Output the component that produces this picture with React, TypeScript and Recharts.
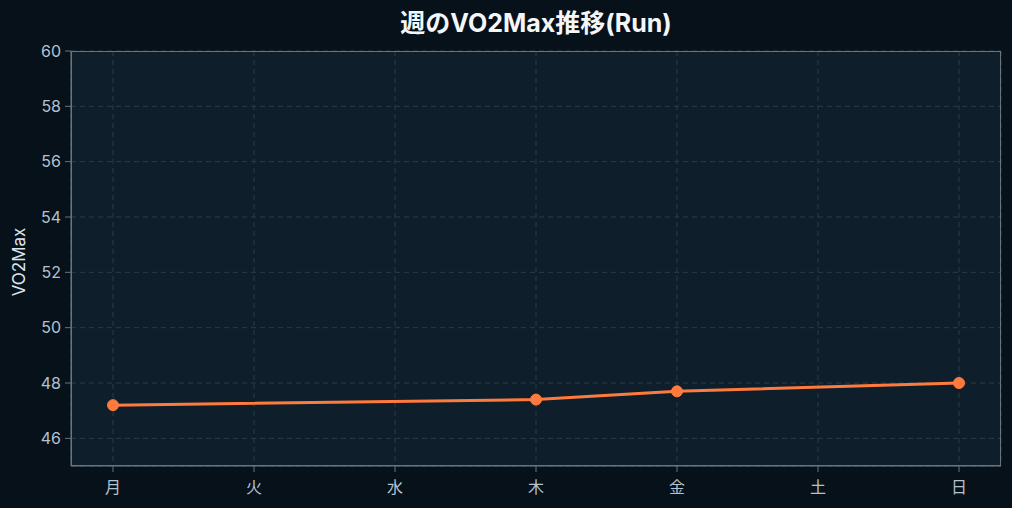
import React from "react";
import {
  LineChart,
  Line,
  XAxis,
  YAxis,
  CartesianGrid,
} from "recharts";

const days = ["月", "火", "水", "木", "金", "土", "日"];
const vo2max = [47.2, null, null, 47.4, 47.7, null, 48.0];
const yTicks = [46, 48, 50, 52, 54, 56, 58, 60];

const data = days.map((day, i) => ({ day, value: vo2max[i] }));

const font = 'Inter, "Noto Sans CJK JP", sans-serif';
const tickStyle = { fill: "#b4c2d0", fontSize: 16, fontFamily: font };
const axisColor = "#66767f";

const App = () => {
  return (
    <div style={{ position: "relative", width: 1012, height: 508, background: "#07111a" }}>
      <style>{`body { margin: 0; background: #07111a; }`}</style>
      <div
        style={{
          position: "absolute",
          left: 71,
          width: 930,
          top: 7,
          lineHeight: "32px",
          textAlign: "center",
          color: "#f4f7fa",
          fontFamily: font,
          fontWeight: 700,
          fontSize: 25,
        }}
      >
        週のVO2Max推移(Run)
      </div>
      <div
        style={{
          position: "absolute",
          left: 19,
          top: 262,
          transform: "translate(-50%, -50%) rotate(-90deg)",
          color: "#dde5ec",
          fontFamily: font,
          fontSize: 17,
          whiteSpace: "nowrap",
        }}
      >
        VO2Max
      </div>
      <LineChart
        width={1012}
        height={508}
        data={data}
        margin={{ top: 51, right: 11, bottom: 6, left: 16 }}
      >
        <CartesianGrid
          stroke="#2b3b49"
          strokeDasharray="5 4"
          fill="#0f1e2b"
          fillOpacity={1}
        />
        <XAxis
          dataKey="day"
          padding={{ left: 42, right: 42 }}
          height={36}
          stroke={axisColor}
          tick={tickStyle}
          tickSize={6}
          tickMargin={10}
          interval={0}
        />
        <YAxis
          domain={[45, 60]}
          ticks={yTicks}
          width={55}
          stroke={axisColor}
          tick={tickStyle}
          tickSize={6}
          tickMargin={4}
          allowDataOverflow
        />
        <Line
          type="linear"
          dataKey="value"
          stroke="#ff7a3d"
          strokeWidth={3}
          dot={{ r: 5.5, fill: "#ff7a3d", stroke: "#ff7a3d", strokeWidth: 1 }}
          connectNulls
          isAnimationActive={false}
        />
      </LineChart>
      <div
        style={{
          position: "absolute",
          left: 71,
          top: 51,
          width: 930,
          height: 415,
          border: `1px solid ${axisColor}`,
          boxSizing: "border-box",
          pointerEvents: "none",
        }}
      />
    </div>
  );
};

export default App;
